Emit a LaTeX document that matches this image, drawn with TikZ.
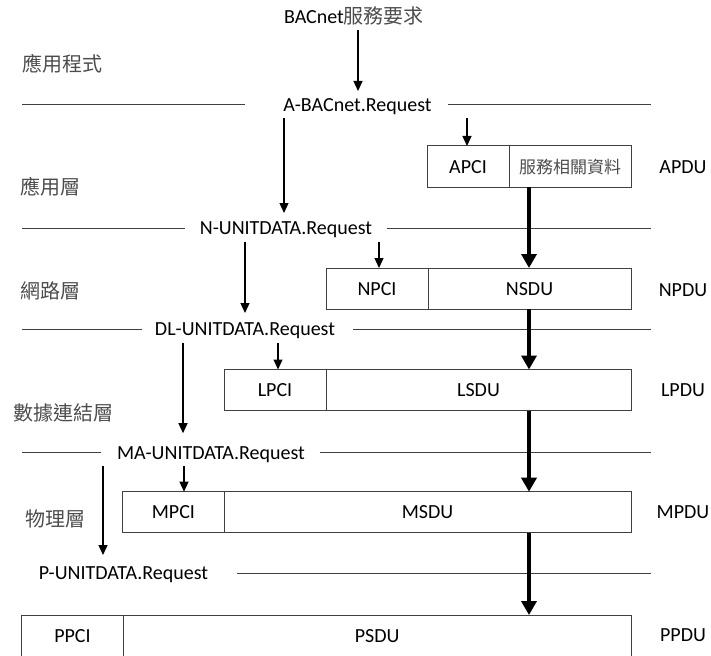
\documentclass[tikz,border=0pt]{standalone}
\usepackage{fontspec}
\setmainfont{Carlito}
\newfontfamily\cjk{Noto Sans CJK TC}
\usetikzlibrary{arrows.meta}
\begin{document}
\begin{tikzpicture}[x=1pt,y=-1pt,
  lbl/.style={inner sep=0pt, outer sep=0pt, text height=13pt, text depth=0pt, font=\fontsize{20}{24}\selectfont},
  cjklbl/.style={lbl, font=\fontsize{20}{24}\selectfont\cjk, text=black!70, anchor=west},
  cell/.style={draw=black!75, line width=1pt, inner sep=0pt, outer sep=0pt, minimum height=41pt,
    anchor=north west, text height=13pt, text depth=0pt, font=\fontsize{20}{24}\selectfont},
  sepline/.style={draw=black!75, line width=1pt},
  thinarr/.style={line width=1.3pt, -{Triangle[width=9pt,length=10pt]}, shorten <=7pt},
  thickarr/.style={line width=4pt, -{Triangle[width=15pt,length=14pt]}}
]
\useasboundingbox (0,0) rectangle (711,655);

% layer names
\node[cjklbl] (l1) at (22,65) {應用程式};
\node[cjklbl] (l2) at (20,188) {應用層};
\node[cjklbl] (l3) at (20,292) {網路層};
\node[cjklbl] (l4) at (13,414) {數據連結層};
\node[cjklbl] (l5) at (25,520) {物理層};

% primitives
\node[lbl] (bac) at (354,17) {BACnet{\cjk\color{black!70}服務要求}};
\node[lbl] (abac) at (357.5,105) {A-BACnet.Request};
\node[lbl] (nreq) at (286,228) {N-UNITDATA.Request};
\node[lbl] (dlreq) at (245,329) {DL-UNITDATA.Request};
\node[lbl] (mareq) at (211,452.7) {MA-UNITDATA.Request};
\node[lbl] (preq) at (123.5,573) {P-UNITDATA.Request};

% separator lines
\coordinate (s1a) at (22,105);  \coordinate (s1b) at (245,105);
\coordinate (s1c) at (448,105); \coordinate (s1d) at (651,105);
\coordinate (s2a) at (22,228);  \coordinate (s2b) at (185,228);
\coordinate (s2c) at (387,228); \coordinate (s2d) at (651,228);
\coordinate (s3a) at (22,329);  \coordinate (s3b) at (142,329);
\coordinate (s3c) at (353,329); \coordinate (s3d) at (651,329);
\coordinate (s4a) at (22,452.7);  \coordinate (s4b) at (101,452.7);
\coordinate (s4c) at (320,452.7); \coordinate (s4d) at (651,452.7);
\coordinate (s5c) at (237,573); \coordinate (s5d) at (651,573);
\draw[sepline] (s1a) -- (s1b) (s1c) -- (s1d);
\draw[sepline] (s2a) -- (s2b) (s2c) -- (s2d);
\draw[sepline] (s3a) -- (s3b) (s3c) -- (s3d);
\draw[sepline] (s4a) -- (s4b) (s4c) -- (s4d);
\draw[sepline] (s5c) -- (s5d);

% PDU boxes
\node[cell, minimum width=82pt] (apci) at (427,146) {APCI};
\node[cell, minimum width=122pt, font=\fontsize{17}{20}\selectfont\cjk, text=black!70] (apdata) at (apci.north east) {服務相關資料};
\node[cell, minimum width=102pt] (npci) at (326,268) {NPCI};
\node[cell, minimum width=203pt] (nsdu) at (npci.north east) {NSDU};
\node[cell, minimum width=102pt] (lpci) at (224,369.5) {LPCI};
\node[cell, minimum width=305pt] (lsdu) at (lpci.north east) {LSDU};
\node[cell, minimum width=101.5pt] (mpci) at (122.7,491.7) {MPCI};
\node[cell, minimum width=406.8pt] (msdu) at (mpci.north east) {MSDU};
\node[cell, minimum width=101.6pt] (ppci) at (21.7,615) {PPCI};
\node[cell, minimum width=507.7pt] (psdu) at (ppci.north east) {PSDU};

% PDU labels
\node[lbl] (apdu) at (683,167) {APDU};
\node[lbl] (npdu) at (683,290) {NPDU};
\node[lbl] (lpdu) at (683,390) {LPDU};
\node[lbl] (mpdu) at (683,512) {MPDU};
\node[lbl] (ppdu) at (683,635) {PPDU};

% columns
\coordinate (cb) at (358,0);
\coordinate (ca) at (284,0);
\coordinate (cn) at (245,0);
\coordinate (cd) at (183,0);
\coordinate (cm) at (103,0);
\coordinate (pa) at (467,0);
\coordinate (pn) at (379,0);
\coordinate (pl) at (278,0);
\coordinate (pm) at (184,0);
\coordinate (tx) at (529,0);

% primitive arrows
\draw[thinarr, shorten >=7.5pt] (bac.south -| cb) -- (abac.north -| cb);
\draw[thinarr, shorten >=8.5pt] (abac.south -| ca) -- (nreq.north -| ca);
\draw[thinarr, shorten >=9.5pt] (nreq.south -| cn) -- (dlreq.north -| cn);
\draw[thinarr, shorten >=13pt] (dlreq.south -| cd) -- (mareq.north -| cd);
\draw[thinarr, shorten >=11.5pt] (mareq.south -| cm) -- (preq.north -| cm);

% PCI arrows
\draw[thinarr] (abac.south -| pa) -- (apci.north -| pa);
\draw[thinarr] (nreq.south -| pn) -- (npci.north -| pn);
\draw[thinarr] (dlreq.south -| pl) -- (lpci.north -| pl);
\draw[thinarr] (mareq.south -| pm) -- (mpci.north -| pm);

% data arrows
\draw[thickarr] (apdata.south -| tx) -- (nsdu.north -| tx);
\draw[thickarr] (nsdu.south -| tx) -- (lsdu.north -| tx);
\draw[thickarr] (lsdu.south -| tx) -- (msdu.north -| tx);
\draw[thickarr] (msdu.south -| tx) -- (psdu.north -| tx);
\end{tikzpicture}
\end{document}
